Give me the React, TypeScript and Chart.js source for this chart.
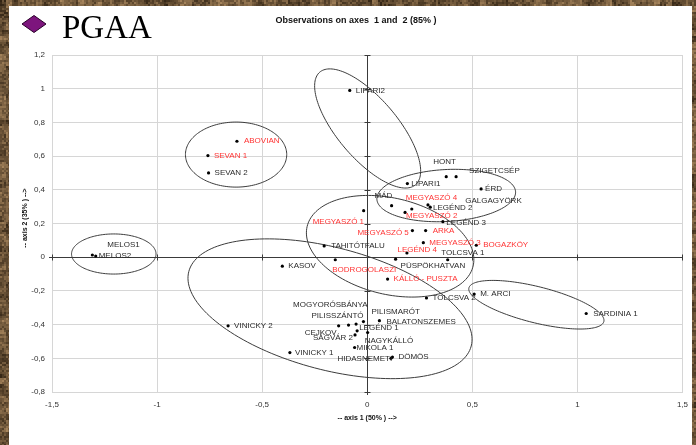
import React, { useEffect, useRef } from 'react';
import { Chart, registerables } from 'chart.js';

Chart.register(...registerables);

// ---- data ----
const siteNames = [
  'LIPARI2', 'ABOVIAN', 'SEVAN 1', 'SEVAN 2', 'MELOS1', 'MELOS2',
  'HONT', 'SZIGETCSÉP', 'LIPARI1', 'ÉRD', 'MÁD', 'MEGYASZÓ 4',
  'MEGYASZÓ 2', 'LEGÉND 2', 'GALGAGYÖRK', 'LEGÉND 3', 'MEGYASZÓ 1', 'MEGYASZÓ 5',
  'ARKA', 'MEGYASZÓ 3', 'BOGAZKÖY', 'LEGÉND 4', 'TOLCSVA 1', 'PÜSPÖKHATVAN',
  'TAHITÓTFALU', 'KASOV', 'BODROGOLASZI', 'KÁLLÓ - PUSZTA', 'MOGYORÓSBÁNYA', 'PILISMARÓT',
  'PILISSZÁNTÓ', 'BALATONSZEMES', 'LEGÉND 1', 'CEJKOV', 'SÁGVÁR 2', 'NAGYKÁLLÓ',
  'MIKOLA 1', 'HIDASNEMETI', 'DÖMÖS', 'VINICKY 1', 'VINICKY 2', 'TOLCSVA 2',
  'M. ARCI', 'SARDINIA 1',
];
const axis1Scores = [
  -0.083, -0.620, -0.758, -0.755, -1.308, -1.292,
  0.376, 0.423, 0.191, 0.542, 0.116, 0.212,
  0.180, 0.289, 0.300, 0.360, -0.017, 0.215,
  0.278, 0.267, 0.519, 0.189, 0.383, 0.135,
  -0.205, -0.404, -0.152, 0.097, -0.053, -0.018,
  -0.089, 0.058, -0.048, -0.136, -0.058, 0.002,
  -0.060, 0.113, 0.120, -0.368, -0.662, 0.282,
  0.509, 1.042,
];
const axis2Scores = [
  0.990, 0.688, 0.603, 0.500, 0.013, 0.007,
  0.478, 0.478, 0.437, 0.405, 0.306, 0.286,
  0.266, 0.310, 0.297, 0.211, 0.276, 0.158,
  0.158, 0.086, 0.071, 0.025, -0.015, -0.012,
  0.067, -0.053, -0.015, -0.130, -0.397, -0.382,
  -0.403, -0.377, -0.437, -0.407, -0.461, -0.447,
  -0.536, -0.600, -0.593, -0.566, -0.407, -0.242,
  -0.219, -0.334,
];
// 1 = label shown in red in the original
const redLabel = [
  0, 1, 1, 0, 0, 0,
  0, 0, 0, 0, 0, 1,
  1, 0, 0, 0, 1, 1,
  1, 1, 1, 1, 0, 0,
  0, 0, 1, 1, 0, 0,
  0, 0, 0, 0, 0, 0,
  0, 0, 0, 0, 0, 0,
  0, 0,
];
const xTickValues = [-1.5, -1, -0.5, 0, 0.5, 1, 1.5];
const yTickValues = [-0.8, -0.6, -0.4, -0.2, 0, 0.2, 0.4, 0.6, 0.8, 1, 1.2];

// confidence ellipses: centre and two conjugate semi-axis vectors (data units)
const ellipseCx = [0.002, -0.624, -1.206, 0.376, 0.109, -0.177, 0.805];
const ellipseCy = [0.764, 0.609, 0.019, 0.366, 0.065, -0.306, -0.282];
const ellipseUx = [0.228, 0.241, 0.201, 0.330, 0.395, 0.672, 0.321];
const ellipseUy = [-0.334, 0, 0, 0.022, -0.117, -0.221, -0.100];
const ellipseVx = [-0.108, 0, 0, 0.0064, -0.052, -0.073, -0.021];
const ellipseVy = [-0.116, -0.193, -0.119, -0.154, -0.278, -0.351, -0.104];

// ---- layout (label offsets in px relative to the point) ----
const labelOffsets: [number, number][] = [
  [6, 0], [7, 0], [6, 0], [6, 0], [15, -10], [3, 0],
  [-13, -15], [13, -6], [4, 0], [4, 0], [-17, -10], [-6, -11],
  [1, 3.5], [5, 2.5], [35, -6], [3.5, 1], [-51, 11], [-55, 2],
  [7, 0], [6, 0.5], [7, 0], [-9.5, -3.6], [-6.5, -6.5], [5, 6.5],
  [7, 0], [6, 0], [-3, 10], [6, 0], [-63, -19], [8, -10],
  [-37, -9], [7, 0.7], [2, -3], [-34, 7], [-42, 3], [-3, 8],
  [2, 0], [-53.5, 0.5], [6, 0], [5, 0], [6, 0], [6, 0],
  [6, 0], [7, 0],
];

const fmt = (v: number) => String(Math.round(v * 10) / 10).replace('.', ',');

function hash(x: number, y: number) {
  const s = Math.sin(x * 12.9898 + y * 78.233) * 43758.5453;
  return s - Math.floor(s);
}

const overlay = {
  id: 'overlay',
  beforeDraw(chart: any) {
    const ctx = chart.ctx;
    const W = chart.width, H = chart.height;
    ctx.save();
    // stone-like brown frame
    ctx.fillStyle = '#5a4329';
    ctx.fillRect(0, 0, W, H);
    for (let y = 0; y < H; y += 2) {
      for (let x = 0; x < W; x += 2) {
        if (x > 12 && x < W - 8 && y > 9) continue;
        const h = hash(Math.floor(x / 2), Math.floor(y / 2));
        const h2 = hash(Math.floor(x / 6), Math.floor(y / 6));
        const l = 0.5 * h + 0.5 * h2;
        const r = Math.round(50 + l * 120), g = Math.round(36 + l * 100), b = Math.round(20 + l * 75);
        ctx.fillStyle = `rgb(${r},${g},${b})`;
        ctx.fillRect(x, y, 2, 2);
      }
    }
    ctx.fillStyle = '#ffffff';
    ctx.fillRect(9, 6, W - 13, H - 6);
    ctx.restore();
  },
  beforeDatasetsDraw(chart: any) {
    const ctx = chart.ctx;
    const xs = chart.scales.x, ys = chart.scales.y;
    const a = chart.chartArea;
    ctx.save();
    // zero axes with tick marks
    ctx.strokeStyle = '#3a3a3a';
    ctx.lineWidth = 1;
    const x0 = Math.round(xs.getPixelForValue(0)) + 0.5;
    const y0 = Math.round(ys.getPixelForValue(0)) + 0.5;
    ctx.beginPath();
    ctx.moveTo(x0, a.top);
    ctx.lineTo(x0, a.bottom + 3);
    ctx.moveTo(a.left - 3, y0);
    ctx.lineTo(a.right, y0);
    for (const v of yTickValues) {
      const p = Math.round(ys.getPixelForValue(v)) + 0.5;
      ctx.moveTo(x0 - 3, p);
      ctx.lineTo(x0 + 3, p);
    }
    for (const v of xTickValues) {
      const p = Math.round(xs.getPixelForValue(v)) + 0.5;
      ctx.moveTo(p, y0 - 3);
      ctx.lineTo(p, y0 + 3);
    }
    ctx.stroke();
    // ellipses
    ctx.strokeStyle = '#3c3c3c';
    ctx.lineWidth = 1;
    for (let i = 0; i < ellipseCx.length; i++) {
      ctx.beginPath();
      const n = 160;
      for (let k = 0; k <= n; k++) {
        const t = (k / n) * Math.PI * 2;
        const dx = ellipseCx[i] + ellipseUx[i] * Math.cos(t) + ellipseVx[i] * Math.sin(t);
        const dy = ellipseCy[i] + ellipseUy[i] * Math.cos(t) + ellipseVy[i] * Math.sin(t);
        const px = xs.getPixelForValue(dx), py = ys.getPixelForValue(dy);
        if (k === 0) ctx.moveTo(px, py); else ctx.lineTo(px, py);
      }
      ctx.stroke();
    }
    ctx.restore();
  },
  afterDatasetsDraw(chart: any) {
    const ctx = chart.ctx;
    const meta = chart.getDatasetMeta(0);
    ctx.save();
    ctx.font = '8px "Liberation Sans", Arial, sans-serif';
    ctx.textBaseline = 'middle';
    ctx.textAlign = 'left';
    meta.data.forEach((el: any, i: number) => {
      const [dx, dy] = labelOffsets[i];
      ctx.fillStyle = redLabel[i] ? '#ff3333' : '#2a2a2a';
      ctx.fillText(siteNames[i], el.x + dx, el.y + dy);
    });
    ctx.restore();
  },
  afterDraw(chart: any) {
    const ctx = chart.ctx;
    ctx.save();
    // header diamond + PGAA
    ctx.beginPath();
    ctx.moveTo(22, 24);
    ctx.lineTo(34, 15.5);
    ctx.lineTo(46, 24);
    ctx.lineTo(34, 32.5);
    ctx.closePath();
    ctx.fillStyle = '#7d157d';
    ctx.fill();
    ctx.strokeStyle = '#2a002a';
    ctx.lineWidth = 1;
    ctx.stroke();
    ctx.fillStyle = '#000';
    ctx.font = '33px "Liberation Serif", "Times New Roman", serif';
    ctx.textAlign = 'left';
    ctx.textBaseline = 'alphabetic';
    ctx.fillText('PGAA', 62, 38);
    // title
    ctx.font = 'bold 9px "Liberation Sans", Arial, sans-serif';
    ctx.textAlign = 'center';
    ctx.textBaseline = 'middle';
    ctx.fillStyle = '#111';
    ctx.fillText('Observations on axes  1 and  2 (85% )', 356, 21);
    // axis titles
    ctx.font = 'bold 7px "Liberation Sans", Arial, sans-serif';
    const a = chart.chartArea;
    ctx.fillText('-- axis 1 (50% ) -->', (a.left + a.right) / 2, 418);
    ctx.translate(25, 218);
    ctx.rotate(-Math.PI / 2);
    ctx.fillText('-- axis 2 (35% ) -->', 0, 0);
    ctx.restore();
  },
};

export default function App() {
  const ref = useRef<HTMLCanvasElement | null>(null);
  useEffect(() => {
    if (!ref.current) return;
    const points = axis1Scores.map((x, i) => ({ x, y: axis2Scores[i] }));
    const chart = new Chart(ref.current, {
      type: 'scatter',
      data: {
        datasets: [
          {
            data: points,
            pointRadius: 1.6,
            pointBackgroundColor: '#000',
            pointBorderWidth: 0,
            pointHoverRadius: 1.6,
          },
        ],
      },
      options: {
        animation: false,
        responsive: true,
        maintainAspectRatio: false,
        events: [],
        layout: { padding: { left: 0, right: 9, top: 55, bottom: 0 } },
        plugins: { legend: { display: false }, tooltip: { enabled: false }, title: { display: false } },
        scales: {
          x: {
            type: 'linear',
            min: -1.5,
            max: 1.5,
            afterFit: (s: any) => { s.height = 53; },
            afterBuildTicks: (s: any) => { s.ticks = xTickValues.map((v) => ({ value: v })); },
            ticks: {
              callback: (v: any) => fmt(Number(v)),
              font: { family: '"Liberation Sans", Arial, sans-serif', size: 8 },
              color: '#333',
              padding: 8,
              maxRotation: 0,
              autoSkip: false,
            },
            grid: { color: '#d6d6d6', drawTicks: false, lineWidth: 1 },
            border: { display: true, color: '#d6d6d6' },
          },
          y: {
            type: 'linear',
            min: -0.8,
            max: 1.2,
            afterFit: (s: any) => { s.width = 52; },
            afterBuildTicks: (s: any) => { s.ticks = yTickValues.map((v) => ({ value: v })); },
            ticks: {
              callback: (v: any) => fmt(Number(v)),
              font: { family: '"Liberation Sans", Arial, sans-serif', size: 8 },
              color: '#333',
              padding: 7,
              autoSkip: false,
            },
            grid: { color: '#d6d6d6', drawTicks: false, lineWidth: 1 },
            border: { display: true, color: '#d6d6d6' },
          },
        },
      },
      plugins: [overlay],
    });
    return () => chart.destroy();
  }, []);
  return (
    <div style={{ position: 'fixed', left: 0, top: 0, width: 696, height: 445 }}>
      <canvas ref={ref} />
    </div>
  );
}
